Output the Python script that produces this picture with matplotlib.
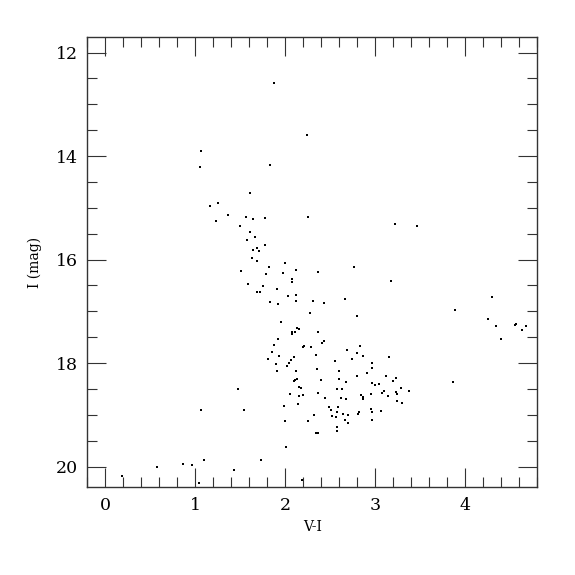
import matplotlib
matplotlib.use("Agg")
import matplotlib.pyplot as plt
from matplotlib.ticker import MultipleLocator

color_vi = [
    1.87, 2.24, 1.06, 1.05, 1.83,
    1.61, 1.25, 1.16, 1.36, 1.56, 1.64, 1.77, 2.25, 1.23, 1.50, 1.61, 1.66, 1.58,
    1.77, 1.64, 1.69, 1.71, 1.63, 1.69, 2.00, 1.82, 1.51, 1.79, 1.98, 2.12, 2.36,
    2.08, 2.08, 1.59, 1.75, 1.91, 1.69, 1.72, 2.12, 2.03, 1.83, 1.92, 2.12, 2.31,
    2.43, 2.27, 1.95, 2.13, 2.15,
    2.80, 2.08, 2.11, 2.08, 2.36, 1.92, 1.88, 2.20, 2.21, 2.29, 2.43, 2.41, 2.83,
    2.69, 2.80, 2.86, 1.85, 1.93, 1.81, 2.10, 2.34, 2.06, 2.04, 2.02, 1.90, 2.55,
    2.74, 2.97, 2.97, 1.91, 2.12, 2.35, 2.60, 2.91, 2.80, 2.13, 2.10, 2.11, 2.40,
    2.60, 2.68, 2.96, 3.00, 3.04, 1.47, 2.15, 2.17, 2.57, 2.63, 2.36, 2.05, 2.15,
    2.20, 2.95, 2.84, 2.87, 2.86, 2.44, 2.62, 2.68, 1.99, 2.14, 2.49, 2.51, 2.59,
    1.06, 1.54, 2.58, 2.82, 2.81, 2.95, 2.97, 2.64, 2.70, 2.52, 2.56, 2.67, 2.70,
    2.32, 2.00, 2.25, 2.96, 2.57, 2.57, 2.34, 2.36, 2.01,
    0.18, 0.57, 0.86, 0.96, 1.10, 1.04, 1.43, 1.73, 2.19,
    3.22, 3.46, 2.77, 3.18, 2.66, 3.89, 4.30, 4.25, 4.34, 4.55, 4.57, 4.68, 4.63,
    4.40, 3.15,
    3.12, 3.23, 3.20, 3.29, 3.38, 3.86, 3.23, 3.24, 3.10, 3.08, 3.14, 3.24, 3.30,
    3.07,
]

mag_i = [
    12.58, 13.59, 13.91, 14.21, 14.17,
    14.71, 14.90, 14.97, 15.14, 15.18, 15.22, 15.19, 15.18, 15.26, 15.36, 15.47,
    15.57, 15.63, 15.71, 15.82, 15.78, 15.83, 15.97, 16.03, 16.07, 16.14, 16.23,
    16.28, 16.26, 16.21, 16.25, 16.37, 16.43, 16.47, 16.52, 16.57, 16.63, 16.62,
    16.68, 16.70, 16.82, 16.85, 16.81, 16.80, 16.84, 17.04, 17.21, 17.32, 17.34,
    17.10, 17.39, 17.39, 17.44, 17.40, 17.54, 17.65, 17.68, 17.67, 17.68, 17.57,
    17.61, 17.67, 17.75, 17.81, 17.86, 17.78, 17.87, 17.92, 17.89, 17.85, 17.95,
    17.99, 18.05, 18.01, 17.96, 17.92, 18.00, 18.09, 18.16, 18.16, 18.12, 18.16,
    18.20, 18.24, 18.31, 18.35, 18.33, 18.33, 18.30, 18.36, 18.39, 18.43, 18.41,
    18.50, 18.47, 18.49, 18.51, 18.50, 18.57, 18.60, 18.63, 18.61, 18.59, 18.62,
    18.66, 18.70, 18.68, 18.67, 18.70, 18.82, 18.80, 18.85, 18.90, 18.85, 18.90,
    18.91, 18.95, 18.94, 18.99, 18.89, 18.94, 18.99, 19.00, 19.03, 19.05, 19.09,
    19.15, 19.01, 19.11, 19.12, 19.09, 19.24, 19.31, 19.35, 19.35, 19.63,
    20.18, 20.00, 19.95, 19.96, 19.88, 20.31, 20.07, 19.88, 20.26,
    15.32, 15.35, 16.14, 16.41, 16.76, 16.98, 16.72, 17.14, 17.29, 17.27, 17.24,
    17.29, 17.36, 17.54, 17.88,
    18.24, 18.28, 18.34, 18.48, 18.54, 18.36, 18.55, 18.60, 18.53, 18.57, 18.63,
    18.74, 18.78, 18.92,
]

x_label = "V-I"
y_label = "I (mag)"

plt.rcParams['font.family'] = ['DejaVu Serif']

fig = plt.figure(figsize=(5.75, 5.75), dpi=100)
ax = fig.add_axes([0.152, 0.1525, 0.782, 0.7832])

ax.plot(color_vi, mag_i, linestyle='none', marker='s', ms=1.6, mew=0,
        color='black')

ax.set_xlim(-0.2, 4.8)
ax.set_ylim(20.4, 11.7)

ax.xaxis.set_major_locator(MultipleLocator(1))
ax.xaxis.set_minor_locator(MultipleLocator(0.2))
ax.yaxis.set_major_locator(MultipleLocator(2))
ax.yaxis.set_minor_locator(MultipleLocator(0.5))

ax.tick_params(which='both', direction='in', top=True, right=True,
               width=0.8, color='#333333')
ax.tick_params(which='major', length=13.7, labelsize=12.5, pad=7)
ax.tick_params(which='minor', length=7)

for s in ax.spines.values():
    s.set_linewidth(1.0)
    s.set_color('#333333')

ax.set_xlabel(x_label, fontsize=10, labelpad=4)
ax.set_ylabel(y_label, fontsize=10, labelpad=10)

fig.savefig('out.png', dpi=100)
